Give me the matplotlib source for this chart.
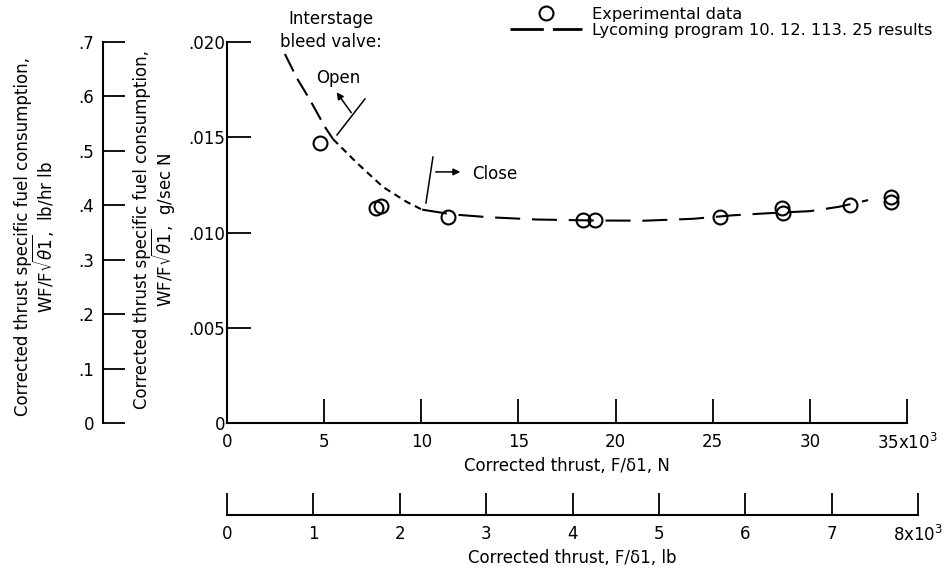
import matplotlib
matplotlib.use('Agg')
import matplotlib.pyplot as plt
from matplotlib.lines import Line2D

# experimental data, thrust in 1000 N, tsfc in g/sec N
exp_thrust = [4.79, 7.67, 7.93, 11.37, 18.32, 18.94, 25.37, 28.56, 28.61, 32.06, 34.17, 34.17]
exp_tsfc = [0.01470, 0.01129, 0.01139, 0.01081, 0.01066, 0.01066, 0.01081, 0.01129, 0.01102,
            0.01144, 0.01186, 0.01160]

# Lycoming program results, split by bleed valve state
prog_open_x = [2.98, 3.60, 4.27, 5.04, 5.46]
prog_open_y = [0.01937, 0.01810, 0.01696, 0.01554, 0.01490]
prog_trans_x = [5.46, 6.69, 8.03, 9.26, 10.04]
prog_trans_y = [0.01490, 0.01365, 0.01239, 0.01160, 0.01120]
prog_closed_x = [10.04, 11.6, 13.5, 16.0, 19.0, 21.5, 24.0, 26.0, 28.0, 30.0, 31.5, 33.0]
prog_closed_y = [0.01120, 0.01095, 0.01080, 0.01068, 0.01063, 0.01062, 0.01072, 0.01090,
                 0.01102, 0.01112, 0.01135, 0.01170]

n_ticks = [0, 5, 10, 15, 20, 25, 30, 35]
n_labels = ['0', '5', '10', '15', '20', '25', '30', '35x10$^3$']
lb_ticks = [0, 1, 2, 3, 4, 5, 6, 7, 8]
lb_labels = ['0', '1', '2', '3', '4', '5', '6', '7', '8x10$^3$']
si_ticks = [0, 0.005, 0.010, 0.015, 0.020]
si_labels = ['0', '.005', '.010', '.015', '.020']
eng_ticks = [0, 0.1, 0.2, 0.3, 0.4, 0.5, 0.6, 0.7]
eng_labels = ['0', '.1', '.2', '.3', '.4', '.5', '.6', '.7']

plt.rcParams['font.family'] = ['DejaVu Sans']
plt.rcParams['font.size'] = 12
plt.rcParams['lines.scale_dashes'] = False

W, H = 944, 573
fig = plt.figure(figsize=(W / 100, H / 100), dpi=100)


def box(x0, y0, x1, y1):
    # pixel box -> figure fraction
    return [x0 / W, 1 - y1 / H, (x1 - x0) / W, (y1 - y0) / H]


def only_spine(a, keep):
    for s in a.spines:
        a.spines[s].set_visible(s == keep)
    a.spines[keep].set_linewidth(1.5)
    a.patch.set_visible(False)


# main axes
ax = fig.add_axes(box(227, 42, 907, 423))
only_spine(ax, 'left')
ax.spines['bottom'].set_visible(True)
ax.spines['bottom'].set_linewidth(1.5)
ax.set_xlim(0, 35)
ax.set_ylim(0, 0.020)
ax.set_xticks(n_ticks)
ax.set_xticklabels(n_labels)
ax.set_yticks(si_ticks)
ax.set_yticklabels(si_labels)
ax.tick_params(axis='x', direction='in', length=17, width=1.3, pad=7)
ax.tick_params(axis='y', direction='in', length=17, width=1.3, pad=1.5)
ax.set_xlabel('Corrected thrust, F/\u03b41, N', labelpad=3)

ax.plot(prog_open_x, prog_open_y, color='black', lw=1.5, dashes=(14, 6))
ax.plot(prog_trans_x, prog_trans_y, color='black', lw=1.5, dashes=(5, 3.5))
ax.plot(prog_closed_x, prog_closed_y, color='black', lw=1.5, dashes=(18, 8.5))
ax.plot(exp_thrust, exp_tsfc, ls='none', marker='o', ms=10, mfc='none', mec='black', mew=1.5)

# bleed valve notes
ax.text(5.35, 0.0206, 'Interstage\nbleed valve:', ha='center', va='center', linespacing=1.3)
ax.text(5.71, 0.01811, 'Open', ha='center', va='center')
ax.plot([7.10, 5.66], [0.01701, 0.01512], color='black', lw=1.1)
ax.annotate('', xy=(5.56, 0.01748), xytext=(6.48, 0.01617),
            arrowprops=dict(arrowstyle='-|>', color='black', lw=1.1, mutation_scale=10))
ax.plot([10.60, 10.24], [0.01396, 0.01155], color='black', lw=1.1)
ax.annotate('', xy=(12.15, 0.01318), xytext=(10.6, 0.01318),
            arrowprops=dict(arrowstyle='-|>', color='black', lw=1.1, mutation_scale=10))
ax.text(12.6, 0.01305, 'Close', ha='left', va='center')

handles = [Line2D([], [], ls='none', marker='o', ms=10, mfc='none', mec='black', mew=1.5),
           Line2D([], [], color='black', lw=2, dashes=(24, 6.5))]
ax.legend(handles, ['Experimental data', 'Lycoming program 10. 12. 113. 25 results'],
          loc='upper left', bbox_to_anchor=(510 / W, 1 - 7 / H), bbox_transform=fig.transFigure,
          frameon=False, handlelength=4.4, handletextpad=0.65, labelspacing=0.05,
          borderpad=0, borderaxespad=0, fontsize=11.7)

# lb/hr lb scale on the left
ax_eng = fig.add_axes(box(102.5, 42, 110, 423))
only_spine(ax_eng, 'left')
ax_eng.set_ylim(0, 0.7)
ax_eng.set_xticks([])
ax_eng.set_yticks(eng_ticks)
ax_eng.set_yticklabels(eng_labels)
ax_eng.tick_params(axis='y', direction='in', length=16, width=1.3, pad=6)

# lb scale at the bottom
ax_lb = fig.add_axes(box(227, 498, 918, 515))
only_spine(ax_lb, 'bottom')
ax_lb.set_xlim(0, 8)
ax_lb.set_yticks([])
ax_lb.set_xticks(lb_ticks)
ax_lb.set_xticklabels(lb_labels)
ax_lb.tick_params(axis='x', direction='in', length=16, width=1.3, pad=7)
ax_lb.set_xlabel('Corrected thrust, F/\u03b41, lb', labelpad=3)

fig.text(35 / W, 1 - 237 / H,
         'Corrected thrust specific fuel consumption,\nWF/F$\\sqrt{\\theta1}$,  lb/hr lb',
         rotation=90, ha='center', va='center', multialignment='center', linespacing=0.95)
fig.text(155 / W, 1 - 230 / H,
         'Corrected thrust specific fuel consumption,\nWF/F$\\sqrt{\\theta1}$,  g/sec N',
         rotation=90, ha='center', va='center', multialignment='center', linespacing=0.95)

fig.savefig('out.png', dpi=100)
